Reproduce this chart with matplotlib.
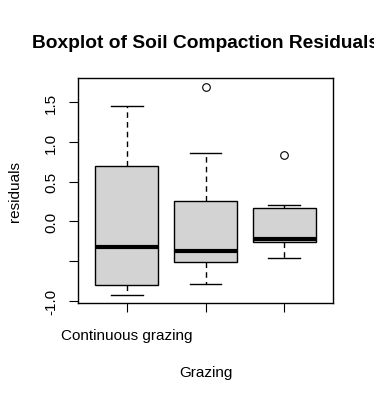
import matplotlib
matplotlib.use("Agg")
import matplotlib.pyplot as plt

plt.rcParams['font.family'] = ['Liberation Sans', 'DejaVu Sans']

# Residual summaries, one entry per grazing group
groups = ["Continuous grazing", "Rotational grazing", "No grazing"]
whisker_low = [-0.93, -0.79, -0.46]
q1 = [-0.81, -0.52, -0.26]
medians = [-0.32, -0.37, -0.22]
q3 = [0.70, 0.25, 0.17]
whisker_high = [1.45, 0.855, 0.20]
outliers = [[], [1.70], [0.84]]

y_ticks = [-1.0, -0.5, 0.0, 0.5, 1.0, 1.5]
y_tick_labels = ["-1.0", "", "0.0", "0.5", "1.0", "1.5"]
x_tick_labels = ["Continuous grazing", "", ""]

stats = []
for i, name in enumerate(groups):
    stats.append({
        "label": name,
        "whislo": whisker_low[i],
        "q1": q1[i],
        "med": medians[i],
        "q3": q3[i],
        "whishi": whisker_high[i],
        "fliers": outliers[i],
    })

fig = plt.figure(figsize=(3.74, 4.02), dpi=100)
ax = fig.add_axes([0.2086, 0.243, 0.6818, 0.560])

ax.bxp(
    stats,
    positions=[1, 2, 3],
    widths=0.8,
    patch_artist=True,
    showfliers=True,
    boxprops=dict(facecolor="#d3d3d3", edgecolor="black", linewidth=1.0),
    medianprops=dict(color="black", linewidth=3.0, solid_capstyle="butt"),
    whiskerprops=dict(color="black", linewidth=1.0, linestyle=(0, (4, 3))),
    capprops=dict(color="black", linewidth=1.0),
    capwidths=0.4,
    flierprops=dict(marker="o", markersize=5.5, markerfacecolor="none",
                    markeredgecolor="black", markeredgewidth=0.8),
)

ax.set_xlim(0.38, 3.62)
ax.set_ylim(-1.035, 1.805)

ax.set_yticks(y_ticks)
ax.set_yticklabels(y_tick_labels, rotation=90, va="center", fontsize=11)
ax.set_xticks([1, 2, 3])
ax.set_xticklabels(x_tick_labels, fontsize=11)
ax.tick_params(axis="both", direction="out", length=6.5, width=0.8)
ax.tick_params(axis="y", pad=8)
ax.tick_params(axis="x", pad=11.5)

for s in ax.spines.values():
    s.set_linewidth(1.0)

ax.set_xlabel("Grazing", fontsize=11, labelpad=16.5)
ax.set_ylabel("residuals", fontsize=11, labelpad=16)

fig.text(0.549, 0.8814, "Boxplot of Soil Compaction Residuals",
         ha="center", va="baseline", fontsize=13.8, fontweight="bold")

fig.savefig("out.png", dpi=100)
